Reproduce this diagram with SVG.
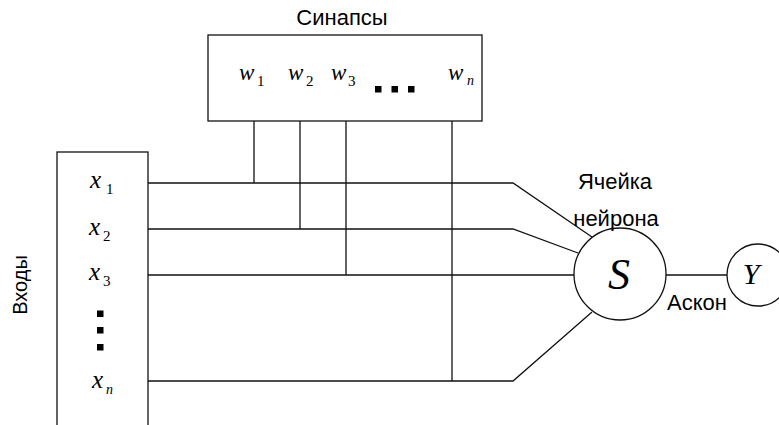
<svg xmlns="http://www.w3.org/2000/svg" width="779" height="425" viewBox="0 0 779 425">
<style>
.box{fill:#fff;stroke:#111;stroke-width:1.3}
.ln{fill:none;stroke:#111;stroke-width:1.3}
.lbl{font-family:"Liberation Sans",Arial,sans-serif;font-size:22px;fill:#000}
.m{font-family:"Liberation Serif","Times New Roman",serif;font-style:italic;fill:#000}
.sub{font-family:"Liberation Serif","Times New Roman",serif;font-size:15px;fill:#000}
.subi{font-family:"Liberation Serif","Times New Roman",serif;font-style:italic;font-size:14px;fill:#000}
.dot{fill:#000}
</style>
<rect width="779" height="425" fill="#fff"/>
<g id="connectors">
<polyline class="ln" points="148,183 513,183 592,237"/>
<polyline class="ln" points="148,229 513,229 578,253"/>
<polyline class="ln" points="148,275 574,275"/>
<polyline class="ln" points="148,381 513,381 592,312"/>
<line class="ln" x1="254" y1="121" x2="254" y2="183"/>
<line class="ln" x1="300" y1="121" x2="300" y2="229"/>
<line class="ln" x1="346" y1="121" x2="346" y2="275"/>
<line class="ln" x1="452" y1="121" x2="452" y2="381"/>
<line class="ln" x1="666" y1="275" x2="727" y2="275"/>
</g>
<g id="synapses">
<rect class="box" x="208" y="35" width="274" height="86"/>
<text class="lbl" x="342" y="25" text-anchor="middle">Синапсы</text>
<text class="m" x="239" y="80" font-size="23">w</text><text class="sub" x="257" y="86">1</text>
<text class="m" x="288" y="80" font-size="23">w</text><text class="sub" x="306" y="86">2</text>
<text class="m" x="331" y="80" font-size="23">w</text><text class="sub" x="348" y="86">3</text>
<rect class="dot" x="375" y="86" width="6.5" height="6.5"/>
<rect class="dot" x="391.5" y="86" width="6.5" height="6.5"/>
<rect class="dot" x="408" y="86" width="6.5" height="6.5"/>
<text class="m" x="448" y="80" font-size="23">w</text><text class="subi" x="467" y="85">n</text>
</g>
<g id="inputs">
<rect class="box" x="57" y="152" width="91" height="290"/>
<text class="lbl" transform="translate(27,285) rotate(-90)" text-anchor="middle" style="font-size:20px">Входы</text>
<text class="m" x="90" y="188" font-size="25">x</text><text class="sub" x="106" y="194">1</text>
<text class="m" x="89" y="235" font-size="25">x</text><text class="sub" x="103" y="241">2</text>
<text class="m" x="89" y="280" font-size="25">x</text><text class="sub" x="103" y="286">3</text>
<rect class="dot" x="97" y="310.5" width="6.5" height="6.5"/>
<rect class="dot" x="97" y="327" width="6.5" height="6.5"/>
<rect class="dot" x="97" y="344" width="6.5" height="6.5"/>
<text class="m" x="92" y="388" font-size="25">x</text><text class="subi" x="106" y="394">n</text>
</g>
<g id="neuron">
<circle class="box" cx="620" cy="274" r="46"/>
<text class="m" x="619" y="289" font-size="44" text-anchor="middle">S</text>
<text class="lbl" x="615" y="189" text-anchor="middle">Ячейка</text>
<text class="lbl" x="616" y="226" text-anchor="middle">нейрона</text>
<text class="lbl" x="667" y="310">Аскон</text>
</g>
<g id="output">
<circle class="box" cx="758" cy="275" r="31"/>
<text class="m" x="751" y="284" font-size="30" text-anchor="middle">Y</text>
</g>
</svg>
